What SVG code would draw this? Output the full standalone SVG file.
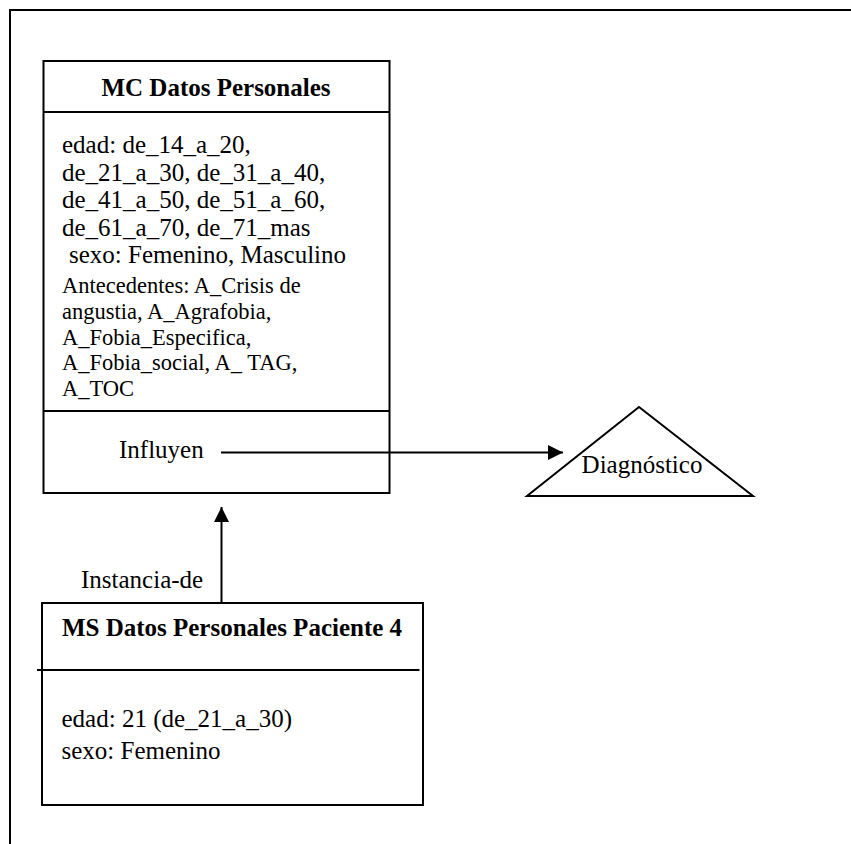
<svg xmlns="http://www.w3.org/2000/svg" width="851" height="844" viewBox="0 0 851 844">
  <style>
    .t { font-family: "Liberation Serif", "Times New Roman", serif; font-size: 25px; fill: #000; }
    .s { font-size: 22.5px; }
    .b { font-weight: bold; }
    .box { fill: #fff; stroke: #000; stroke-width: 2; }
    .ln { stroke: #000; stroke-width: 2; fill: none; }
  </style>
  <defs>
    <marker id="arrow" markerWidth="16" markerHeight="16" refX="15" refY="7.5" orient="auto" markerUnits="userSpaceOnUse">
      <path d="M0,0 L15,7.5 L0,15 Z" fill="#000"/>
    </marker>
  </defs>
  <rect width="851" height="844" fill="#fff"/>

  <!-- page frame (open on the right and bottom) -->
  <path d="M10,844 V10 H851" fill="none" stroke="#000" stroke-width="2"/>

  <!-- MC Datos Personales -->
  <g id="mc-datos-personales">
    <rect class="box" x="43.5" y="61" width="346" height="432"/>
    <line class="ln" x1="43.5" y1="112" x2="389.5" y2="112"/>
    <line class="ln" x1="43.5" y1="411" x2="389.5" y2="411"/>
    <text class="t b" x="216" y="96" text-anchor="middle">MC Datos Personales</text>
    <text class="t" x="62" y="153">edad: de_14_a_20,</text>
    <text class="t" x="62" y="180.5">de_21_a_30, de_31_a_40,</text>
    <text class="t" x="62" y="208">de_41_a_50, de_51_a_60,</text>
    <text class="t" x="62" y="235.5">de_61_a_70, de_71_mas</text>
    <text class="t" x="69" y="263">sexo: Femenino, Masculino</text>
    <text class="t s" x="62" y="293">Antecedentes: A_Crisis de</text>
    <text class="t s" x="62" y="319">angustia, A_Agrafobia,</text>
    <text class="t s" x="62" y="344.5">A_Fobia_Especifica,</text>
    <text class="t s" x="62" y="370">A_Fobia_social, A_ TAG,</text>
    <text class="t s" x="62" y="395.5">A_TOC</text>
    <text class="t" x="119" y="458">Influyen</text>
  </g>

  <!-- Diagnóstico -->
  <g id="diagnostico">
    <polygon points="639,407 527,496 753,496" fill="#fff" stroke="#000" stroke-width="2" stroke-linejoin="miter"/>
    <text class="t" x="642" y="473" text-anchor="middle">Diagnóstico</text>
  </g>

  <!-- MS Datos Personales Paciente 4 -->
  <g id="ms-datos-personales-paciente-4">
    <rect class="box" x="42" y="603" width="381" height="202"/>
    <line class="ln" x1="37" y1="670" x2="419.5" y2="670"/>
    <text class="t b" x="232" y="636" text-anchor="middle">MS Datos Personales Paciente 4</text>
    <text class="t" x="61.5" y="727">edad: 21 (de_21_a_30)</text>
    <text class="t" x="61.5" y="759">sexo: Femenino</text>
  </g>

  <!-- connectors -->
  <g id="connectors">
    <line class="ln" x1="221" y1="452.5" x2="563" y2="452.5" marker-end="url(#arrow)"/>
    <line class="ln" x1="221.5" y1="602" x2="221.5" y2="507" marker-end="url(#arrow)"/>
    <text class="t" x="81" y="588">Instancia-de</text>
  </g>
</svg>
